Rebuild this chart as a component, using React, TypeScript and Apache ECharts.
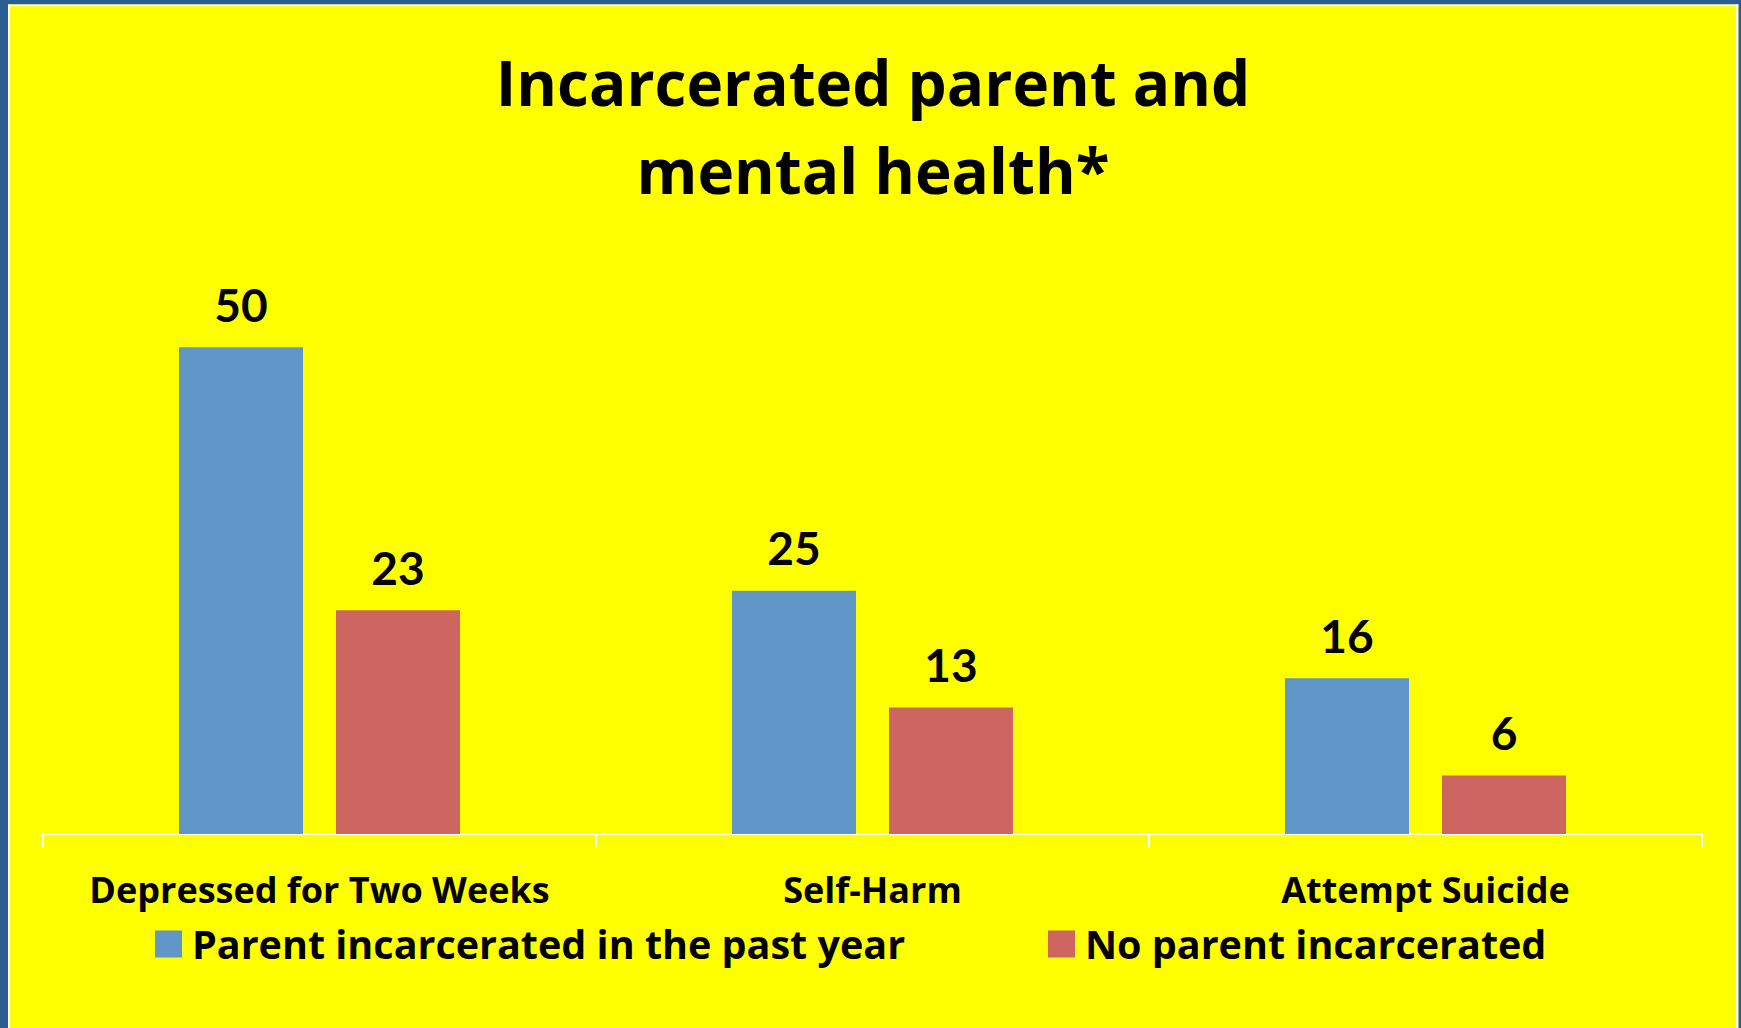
import React, { useEffect, useRef } from "react";
import * as echarts from "echarts";

const categories = ["Depressed for Two Weeks", "Self-Harm", "Attempt Suicide"];
const parentIncarcerated = [50, 25, 16];
const noParentIncarcerated = [23, 13, 6];
const seriesNames = ["Parent incarcerated in the past year", "No parent incarcerated"];
const titleText = "Incarcerated parent and\nmental health*";

const FONT = "'Open Sans', Lato, sans-serif";
const NUM_FONT = "Lato, 'Open Sans', sans-serif";
const BLUE = "#6196C9";
const RED = "#CD6661";
const FRAME = "#2A5E92";

export default function App() {
  const ref = useRef<HTMLDivElement>(null);
  useEffect(() => {
    if (!ref.current) return;
    const chart = echarts.init(ref.current, undefined, { renderer: "svg" });
    const W = 1741;
    const H = 1028;
    const legendText = { fontFamily: FONT, fontWeight: "bold", fontSize: 39.5, lineHeight: 42, color: "#000", padding: [0, 0, 0, 5] };
    chart.setOption({
      animation: false,
      backgroundColor: "#FFFF00",
      title: {
        text: titleText,
        left: 873,
        textAlign: "center",
        top: 38,
        padding: 0,
        textStyle: {
          fontFamily: FONT,
          fontWeight: "bold",
          fontSize: 62,
          lineHeight: 88,
          color: "#000",
        },
      },
      legend: [
        {
          data: [seriesNames[0]],
          left: 155,
          top: 923,
          padding: 0,
          itemWidth: 27,
          itemHeight: 27,
          icon: "rect",
          itemGap: 15,
          textStyle: legendText,
        },
        {
          data: [seriesNames[1]],
          left: 1048,
          top: 923,
          padding: 0,
          itemWidth: 27,
          itemHeight: 27,
          icon: "rect",
          itemGap: 15,
          textStyle: legendText,
        },
      ],
      grid: { left: 43, right: 39, top: 250, bottom: 194, containLabel: false },
      xAxis: {
        type: "category",
        data: categories,
        axisLine: { show: true, lineStyle: { color: "#FFFFFF", width: 2 } },
        axisTick: { show: true, length: 14, lineStyle: { color: "#FFFFFF", width: 2 } },
        axisLabel: { fontFamily: FONT, fontWeight: "bold", fontSize: 36, color: "#000", margin: 37, interval: 0 },
        splitLine: { show: false },
      },
      yAxis: {
        type: "value",
        min: 0,
        max: 60,
        show: false,
        splitLine: { show: false },
      },
      series: [
        {
          name: seriesNames[0],
          type: "bar",
          data: parentIncarcerated,
          barWidth: 124,
          barGap: "26.6%",
          itemStyle: { color: BLUE },
          label: { show: true, position: "top", distance: 20, fontFamily: NUM_FONT, fontWeight: "bold", fontSize: 46, color: "#000" },
        },
        {
          name: seriesNames[1],
          type: "bar",
          data: noParentIncarcerated,
          barWidth: 124,
          barGap: "26.6%",
          itemStyle: { color: RED },
          label: { show: true, position: "top", distance: 20, fontFamily: NUM_FONT, fontWeight: "bold", fontSize: 46, color: "#000" },
        },
      ],
      graphic: [
        { type: "rect", silent: true, z: 100, shape: { x: 0, y: 0, width: W, height: 4.5 }, style: { fill: FRAME } },
        { type: "rect", silent: true, z: 100, shape: { x: 0, y: 0, width: 8, height: H }, style: { fill: FRAME } },
        { type: "rect", silent: true, z: 100, shape: { x: 1738.3, y: 0, width: 3, height: H }, style: { fill: FRAME } },
        { type: "rect", silent: true, z: 100, shape: { x: 8, y: 4.5, width: 1730.3, height: 1.8 }, style: { fill: "#FFFFFF" } },
        { type: "rect", silent: true, z: 100, shape: { x: 8, y: 4.5, width: 2, height: H }, style: { fill: "#FFFFFF" } },
        { type: "rect", silent: true, z: 100, shape: { x: 1736, y: 4.5, width: 2.3, height: H }, style: { fill: "#FFFFFF" } },
      ],
    });
    return () => chart.dispose();
  }, []);
  return (
    <div
      ref={ref}
      style={{ position: "fixed", left: 0, top: 0, width: 1741, height: 1028, background: FRAME }}
    />
  );
}
